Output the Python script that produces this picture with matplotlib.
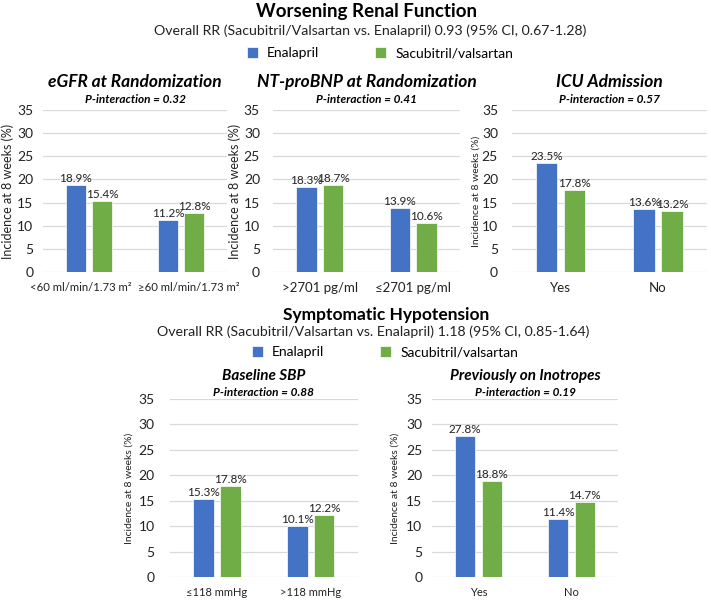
import matplotlib
matplotlib.use("Agg")
import matplotlib.pyplot as plt
import matplotlib.transforms as mtransforms
import numpy as np

plt.rcParams['font.family'] = ['Lato', 'DejaVu Sans']

# Data
egfr_cats = ['<60 ml/min/1.73 m²', '≥60 ml/min/1.73 m²']
egfr_enal = [18.9, 11.2]
egfr_sac = [15.4, 12.8]

ntp_cats = ['>2701 pg/ml', '≤2701 pg/ml']
ntp_enal = [18.3, 13.9]
ntp_sac = [18.7, 10.6]

icu_cats = ['Yes', 'No']
icu_enal = [23.5, 13.6]
icu_sac = [17.8, 13.2]

sbp_cats = ['≤118 mmHg', '>118 mmHg']
sbp_enal = [15.3, 10.1]
sbp_sac = [17.8, 12.2]

ino_cats = ['Yes', 'No']
ino_enal = [27.8, 11.4]
ino_sac = [18.8, 14.7]

BLUE = '#4472C4'
GREEN = '#70AD47'
GRID = '#D9D9D9'
TXT = '#222222'


def draw_panel(ax, cats, enal, sac, title, pval, tsize, tdy, pdy,
               ylsize, ypad, ylpad, xsize):
    x = np.arange(len(cats))
    w = 0.22
    off = 0.143
    b1 = ax.bar(x - off, enal, w, color=BLUE, edgecolor='white', linewidth=0.5, zorder=3)
    b2 = ax.bar(x + off, sac, w, color=GREEN, edgecolor='white', linewidth=0.5, zorder=3)
    for bars, vals in ((b1, enal), (b2, sac)):
        for b, v in zip(bars, vals):
            ax.text(b.get_x() + b.get_width() / 2, v + 0.2, f"{v:.1f}%", ha='center', va='bottom',
                    fontsize=8.5, color=TXT)
    ax.set_ylim(0, 35)
    ax.set_xlim(-0.5, len(cats) - 0.5)
    ax.set_yticks(range(0, 36, 5))
    ax.set_xticks(x)
    ax.set_xticklabels(cats)
    ax.tick_params(axis='both', length=0, colors=TXT)
    ax.tick_params(axis='y', pad=ypad, labelsize=10)
    ax.tick_params(axis='x', pad=7, labelsize=xsize)
    ax.grid(axis='y', color=GRID, linewidth=0.9, zorder=0)
    for s in ax.spines.values():
        s.set_visible(False)
    ax.set_ylabel('Incidence at 8 weeks (%)', fontsize=ylsize, color=TXT, labelpad=ylpad)
    ax.annotate(title, xy=(0.5, 1), xycoords='axes fraction', xytext=(0, tdy), textcoords='offset points',
                ha='center', va='center', fontsize=tsize, fontweight='bold', fontstyle='italic', color='black')
    ax.annotate(f"P-interaction = {pval}", xy=(0.5, 1), xycoords='axes fraction', xytext=(0, pdy),
                textcoords='offset points', ha='center', va='center',
                fontsize=8.5, fontweight='bold', fontstyle='italic', color='black')
    return b1, b2


fig = plt.figure(figsize=(7.11, 6.0), dpi=100)

ax1 = fig.add_axes([0.0605, 0.5467, 0.259, 0.27])
ax2 = fig.add_axes([0.384, 0.5467, 0.263, 0.27])
ax3 = fig.add_axes([0.720, 0.5467, 0.274, 0.27])
ax4 = fig.add_axes([0.239, 0.0383, 0.264, 0.2967])
ax5 = fig.add_axes([0.6076, 0.0383, 0.2616, 0.2967])

h1, h2 = draw_panel(ax1, egfr_cats, egfr_enal, egfr_sac, 'eGFR at Randomization', '0.32',
                    12.5, 20, 7.2, 9, 7, 2.5, 8.2)
draw_panel(ax2, ntp_cats, ntp_enal, ntp_sac, 'NT-proBNP at Randomization', '0.41',
           12.5, 20, 7.2, 9, 9.4, 2, 9.5)
draw_panel(ax3, icu_cats, icu_enal, icu_sac, 'ICU Admission', '0.57',
           12.5, 20, 7.2, 7.5, 10, 1, 9.5)
draw_panel(ax4, sbp_cats, sbp_enal, sbp_sac, 'Baseline SBP', '0.88',
           11, 16.5, 4.5, 7.5, 11, 3.5, 8)
draw_panel(ax5, ino_cats, ino_enal, ino_sac, 'Previously on Inotropes', '0.19',
           11, 16.5, 4.5, 7.5, 7, 5, 8)

# the two long eGFR labels crowd each other, as in the source chart
lbls = ax1.get_xticklabels()
lbls[0].set_transform(lbls[0].get_transform() + mtransforms.ScaledTranslation(-0.08, 0, fig.dpi_scale_trans))
lbls[1].set_transform(lbls[1].get_transform() + mtransforms.ScaledTranslation(0.08, 0, fig.dpi_scale_trans))
lbls[1].set_bbox(dict(facecolor='white', edgecolor='none', pad=0.5))
lbls[1].set_zorder(5)

# Section headings
W, H = 711.0, 600.0
fig.text(367 / W, 1 - 12 / H, 'Worsening Renal Function', ha='center', va='center',
         fontsize=13.5, fontweight='bold')
fig.text(370 / W, 1 - 31 / H, 'Overall RR (Sacubitril/Valsartan vs. Enalapril) 0.93 (95% CI, 0.67-1.28)',
         ha='center', va='center', fontsize=10.2, color=TXT)
fig.legend([h1, h2], ['Enalapril', 'Sacubitril/valsartan'], loc='center', bbox_to_anchor=(380 / W, 1 - 53 / H),
           ncol=2, frameon=False, fontsize=10, handlelength=0.8, handleheight=0.8, columnspacing=4.0,
           handletextpad=0.65, borderpad=0)

fig.text(386 / W, 1 - 315 / H, 'Symptomatic Hypotension', ha='center', va='center',
         fontsize=12.5, fontweight='bold')
fig.text(373 / W, 1 - 332 / H, 'Overall RR (Sacubitril/Valsartan vs. Enalapril) 1.18 (95% CI, 0.85-1.64)',
         ha='center', va='center', fontsize=10.2, color=TXT)
fig.legend([h1, h2], ['Enalapril', 'Sacubitril/valsartan'], loc='center', bbox_to_anchor=(385 / W, 1 - 352 / H),
           ncol=2, frameon=False, fontsize=10, handlelength=0.8, handleheight=0.8, columnspacing=4.0,
           handletextpad=0.65, borderpad=0)

fig.savefig('out.png', dpi=100)
